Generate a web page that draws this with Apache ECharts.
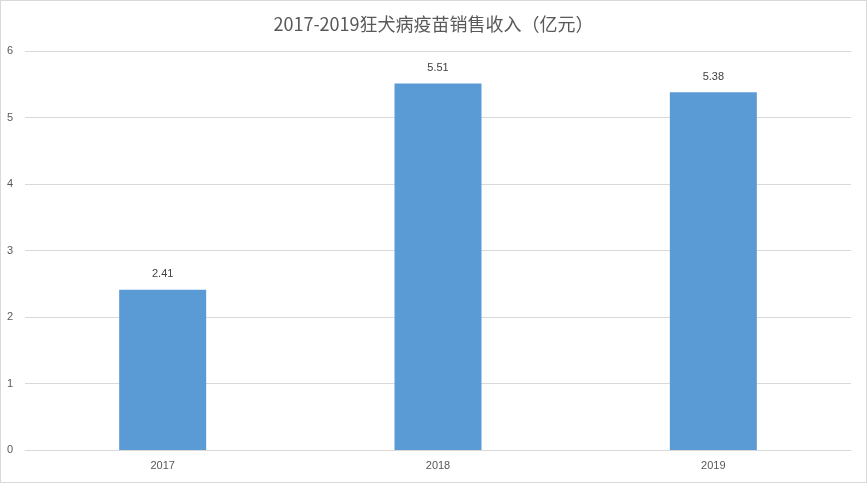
<!DOCTYPE html>
<html>
<head>
<meta charset="utf-8">
<script src="https://cdn.jsdelivr.net/npm/echarts@6/dist/echarts.min.js"></script>
<style>
html,body{margin:0;padding:0;background:#fff;}
#c{width:867px;height:483px;box-sizing:border-box;border:1px solid #d9d9d9;}
</style>
</head>
<body>
<div id="c"></div>
<script>
const title = '2017-2019狂犬病疫苗销售收入（亿元）';
const categories = ['2017', '2018', '2019'];
const values = [2.41, 5.51, 5.38];

const chart = echarts.init(document.getElementById('c'));
chart.setOption({
  animation: false,
  title: {
    text: title,
    left: 'center',
    top: 9,
    textStyle: {color: '#595959', fontSize: 18, fontWeight: 'normal', fontFamily: 'Noto Sans CJK SC'}
  },
  grid: {left: 24, right: 15, top: 50, bottom: 32},
  xAxis: {
    type: 'category',
    data: categories,
    axisLine: {lineStyle: {color: '#d9d9d9'}},
    axisTick: {show: false},
    axisLabel: {color: '#595959', fontSize: 11, margin: 10}
  },
  yAxis: {
    type: 'value',
    min: 0, max: 6, interval: 1,
    axisLine: {show: false},
    axisTick: {show: false},
    splitLine: {lineStyle: {color: '#d9d9d9'}},
    axisLabel: {color: '#595959', fontSize: 11, margin: 12}
  },
  series: [{
    type: 'bar',
    data: values,
    barWidth: '31.6%',
    itemStyle: {color: '#5B9BD5'},
    label: {show: true, position: 'top', distance: 10, color: '#404040', fontSize: 11}
  }]
});
</script>
</body>
</html>
